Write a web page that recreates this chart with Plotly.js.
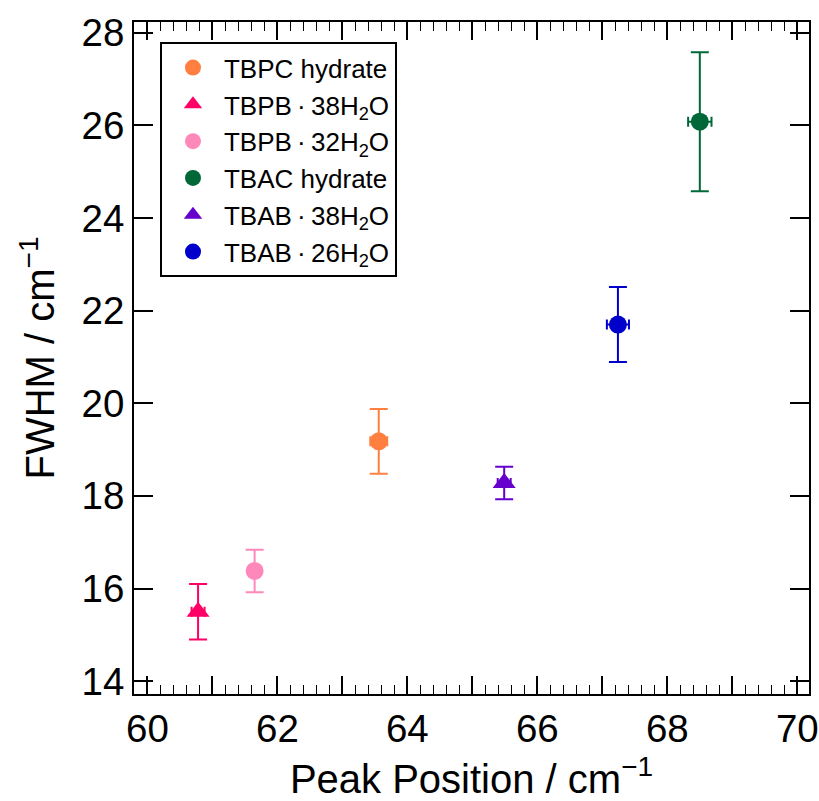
<!DOCTYPE html>
<html>
<head>
<meta charset="utf-8">
<script src="https://cdn.plot.ly/plotly-3.0.1.min.js"></script>
<style>html,body{margin:0;padding:0;background:#fff;}#chart{width:819px;height:801px;}</style>
</head>
<body>
<div id="chart"></div>
<script>
const seriesNames = ['TBPC hydrate', 'TBPB\u2009·\u200938H<sub>2</sub>O', 'TBPB\u2009·\u200932H<sub>2</sub>O', 'TBAC hydrate', 'TBAB\u2009·\u200938H<sub>2</sub>O', 'TBAB\u2009·\u200926H<sub>2</sub>O'];
const peakPosition = [63.56, 60.78, 61.65, 68.50, 65.49, 67.24];
const peakPositionErr = [0.13, 0.10, 0.10, 0.18, 0.10, 0.17];
const fwhm = [19.18, 15.50, 16.38, 26.08, 18.28, 21.70];
const fwhmErr = [0.70, 0.60, 0.46, 1.50, 0.35, 0.81];
const seriesColors = ['#FF7F40', '#FF0066', '#FF88BB', '#006838', '#6600CC', '#0000CC'];
const seriesSymbols = ['circle', 'triangle-up', 'circle', 'circle', 'triangle-up', 'circle'];
const xTickVals = [60, 61, 62, 63, 64, 65, 66, 67, 68, 69, 70];
const xTickText = ['60', '', '62', '', '64', '', '66', '', '68', '', '70'];
const yTickVals = [14, 16, 18, 20, 22, 24, 26, 28];

const FONT = 'Liberation Sans, Arial, Helvetica, Noto Sans CJK JP, sans-serif';

const traces = seriesNames.map((name, i) => ({
  type: 'scatter',
  mode: 'markers',
  name: name,
  x: [peakPosition[i]],
  y: [fwhm[i]],
  marker: {color: seriesColors[i], symbol: seriesSymbols[i], size: seriesSymbols[i] === 'circle' ? 18 : 20},
  error_y: {type: 'data', array: [fwhmErr[i]], visible: true, color: seriesColors[i], thickness: 2, width: 9},
  error_x: {type: 'data', array: [peakPositionErr[i]], visible: true, color: seriesColors[i], thickness: 2, width: 5}
}));

const layout = {
  width: 819, height: 801,
  margin: {l: 134, r: 10, t: 22, b: 107},
  paper_bgcolor: '#ffffff', plot_bgcolor: '#ffffff',
  font: {family: FONT, color: '#000', size: 38},
  showlegend: true,
  legend: {
    x: 0.0385, y: 0.970, xanchor: 'left', yanchor: 'top',
    bordercolor: '#000', borderwidth: 2, bgcolor: '#fff',
    itemwidth: 52,
    font: {family: FONT, size: 26, color: '#000'}
  },
  xaxis: {
    range: [59.794, 70.18],
    tickmode: 'array', tickvals: xTickVals, ticktext: xTickText,
    ticks: 'inside', ticklen: 18, tickwidth: 2, tickcolor: '#000',
    minor: {tickmode: 'linear', tick0: 60, dtick: 0.2, ticks: 'inside', ticklen: 9, tickwidth: 1.5, tickcolor: '#000'},
    showline: true, linecolor: '#000', linewidth: 2, mirror: 'allticks',
    showgrid: false, zeroline: false,
    tickfont: {family: FONT, size: 38.5, color: '#000'},
    title: {text: 'Peak Position / cm<sup>−1</sup>', font: {family: FONT, size: 40, color: '#000'}, standoff: 18}
  },
  yaxis: {
    range: [13.724, 28.233],
    tickmode: 'array', tickvals: yTickVals,
    ticks: 'inside', ticklen: 19, tickwidth: 2, tickcolor: '#000',
    showline: true, linecolor: '#000', linewidth: 2, mirror: 'allticks',
    showgrid: false, zeroline: false,
    tickfont: {family: FONT, size: 38.5, color: '#000'},
    title: {text: 'FWHM / cm<sup>−1</sup>', font: {family: FONT, size: 40, color: '#000'}, standoff: 14}
  }
};

Plotly.newPlot('chart', traces, layout, {displayModeBar: false, staticPlot: true});
</script>
</body>
</html>
